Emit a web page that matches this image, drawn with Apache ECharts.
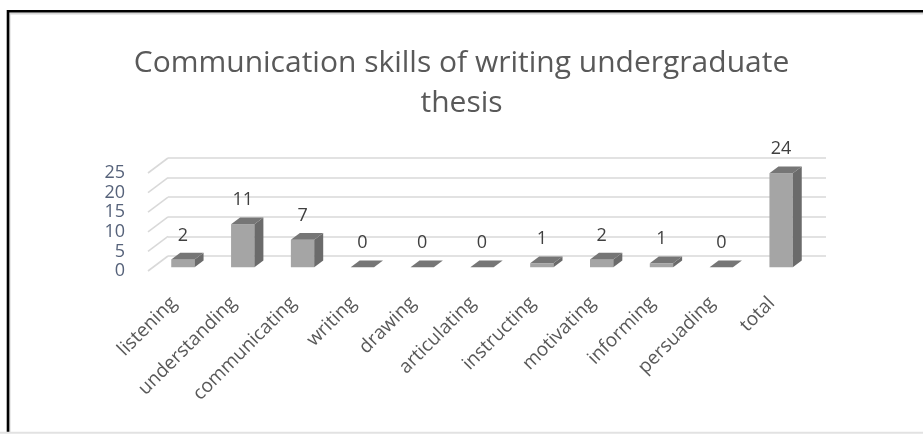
<!DOCTYPE html>
<html>
<head>
<meta charset="utf-8">
<script src="https://cdn.jsdelivr.net/npm/echarts@6/dist/echarts.min.js"></script>
<style>
  html, body { margin: 0; padding: 0; background: #ffffff; }
  #chart { width: 923px; height: 434px; }
</style>
</head>
<body>
<div id="chart"></div>
<script>
// Skill categories and the number of mentions for each
const categories = ['listening', 'understanding', 'communicating', 'writing', 'drawing',
  'articulating', 'instructing', 'motivating', 'informing', 'persuading', 'total'];
const counts = [2, 11, 7, 0, 0, 0, 1, 2, 1, 0, 24];
const yTicks = [0, 5, 10, 15, 20, 25];

// Pseudo-3D layout: a front plane (labels, bars) and a back wall (gridlines)
const FRONT = { left: 148, top: 173, width: 658, height: 98 };
const DEPTH = [20, -15];           // offset from front plane to back wall
const BAR_FRONT = 0.25;            // depth fraction where a bar's front face sits
const BAR_DEPTH = 0.45;            // depth fraction occupied by a bar
const BAR_WIDTH = 0.39;            // bar width as a share of the category band
const FONT = '"Open Sans", "Noto Sans", sans-serif';

const chart = echarts.init(document.getElementById('chart'), null, { renderer: 'canvas' });

function renderBar(params, api) {
  const i = api.value(0);
  const v = api.value(1);
  const base = api.coord([i, 0]);
  const top = api.coord([i, v]);
  const w = api.size([1, 0])[0] * BAR_WIDTH;
  const fx = DEPTH[0] * BAR_FRONT, fy = DEPTH[1] * BAR_FRONT;
  const dx = DEPTH[0] * BAR_DEPTH, dy = DEPTH[1] * BAR_DEPTH;
  const xL = base[0] - w / 2 + fx, xR = base[0] + w / 2 + fx;
  const yB = base[1] + fy, yT = top[1] + fy;
  const children = [];
  if (yB - yT > 0.5) {
    children.push({ type: 'rect', shape: { x: xL, y: yT, width: xR - xL, height: yB - yT },
      style: { fill: '#a5a5a5' } });
    children.push({ type: 'polygon',
      shape: { points: [[xR, yT], [xR + dx, yT + dy], [xR + dx, yB + dy], [xR, yB]] },
      style: { fill: '#6b6b6b' } });
  }
  children.push({ type: 'polygon',
    shape: { points: [[xL, yT], [xR, yT], [xR + dx, yT + dy], [xL + dx, yT + dy]] },
    style: { fill: '#767676' } });
  children.push({ type: 'text', x: (xL + xR) / 2, y: yT - 24,
    style: { text: String(v), fill: '#404040', fontSize: 18, fontFamily: FONT,
      align: 'center', verticalAlign: 'middle' } });
  return { type: 'group', children };
}

function renderDepthLine(params, api) {
  const v = api.value(1);
  const y = api.coord([0, v])[1];
  const x = params.coordSys.x;
  return { type: 'line', shape: { x1: x, y1: y, x2: x + DEPTH[0], y2: y + DEPTH[1] },
    style: { stroke: '#d9d9d9', lineWidth: 1.6 } };
}

const option = {
  backgroundColor: '#ffffff',
  animation: false,
  title: {
    text: 'Communication skills of writing undergraduate\nthesis',
    left: 'center',
    top: 38,
    textStyle: { color: '#595959', fontSize: 30, fontWeight: 'normal', fontFamily: FONT, lineHeight: 40 }
  },
  grid: [
    { left: FRONT.left, top: FRONT.top, width: FRONT.width, height: FRONT.height },
    { left: FRONT.left + DEPTH[0], top: FRONT.top + DEPTH[1], width: FRONT.width, height: FRONT.height }
  ],
  xAxis: [
    { type: 'category', gridIndex: 0, data: categories,
      axisLine: { show: false }, axisTick: { show: false },
      axisLabel: { rotate: 45, margin: 25, padding: [0, 6, 0, 0], color: '#595959',
        fontSize: 19, fontFamily: FONT, interval: 0 } },
    { type: 'category', gridIndex: 1, data: categories, show: false }
  ],
  yAxis: [
    { type: 'value', gridIndex: 0, min: 0, max: 25, interval: 5,
      axisLine: { show: false }, axisTick: { show: false }, splitLine: { show: false },
      axisLabel: { margin: 23, padding: [6, 0, 0, 0], color: '#56627a', fontSize: 18, fontFamily: FONT } },
    { type: 'value', gridIndex: 1, min: 0, max: 25, interval: 5,
      axisLine: { show: false }, axisTick: { show: false }, axisLabel: { show: false },
      splitLine: { show: true, lineStyle: { color: '#d9d9d9', width: 1.6 } } }
  ],
  series: [
    { type: 'custom', xAxisIndex: 0, yAxisIndex: 0, z: 1, silent: true,
      renderItem: renderDepthLine,
      data: yTicks.map(v => [0, v]) },
    { type: 'custom', xAxisIndex: 0, yAxisIndex: 0, z: 5, silent: true,
      renderItem: renderBar,
      encode: { x: 0, y: 1 },
      data: counts.map((v, i) => [i, v]) }
  ],
  graphic: [
    { type: 'polyline', silent: true, shape: { points: [[9.5, 432], [9.5, 13.5], [923, 13.5]] },
      style: { stroke: '#d6d6d6', lineWidth: 2, fill: null } },
    { type: 'polyline', silent: true, shape: { points: [[8, 433], [8, 11.3], [923, 11.3]] },
      style: { stroke: '#000000', lineWidth: 2.6, fill: null } },
    { type: 'line', silent: true, shape: { x1: 0, y1: 432.8, x2: 923, y2: 432.8 },
      style: { stroke: '#e2e2e2', lineWidth: 2 } }
  ]
};

chart.setOption(option);
</script>
</body>
</html>
